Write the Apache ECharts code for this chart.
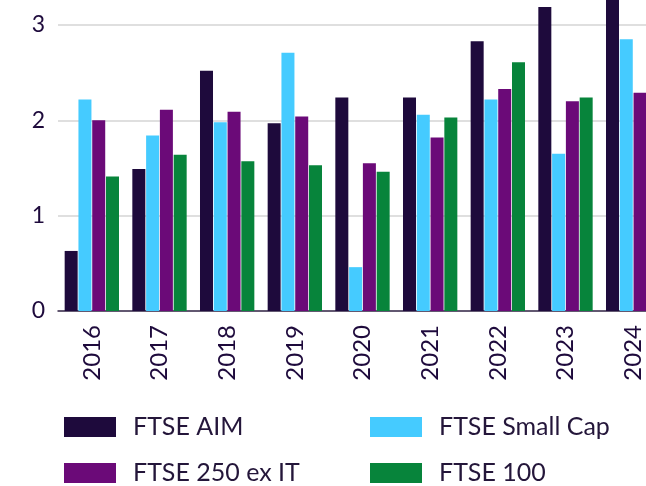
<!DOCTYPE html>
<html>
<head>
<meta charset="utf-8">
<script src="https://cdn.jsdelivr.net/npm/echarts@6/dist/echarts.min.js"></script>
<style>
  html, body { margin: 0; padding: 0; background: #fff; }
  #chart { width: 646px; height: 486px; }
</style>
</head>
<body>
<div id="chart"></div>
<script>
const years = ['2016', '2017', '2018', '2019', '2020', '2021', '2022', '2023', '2024'];
const ftseAim = [0.63, 1.49, 2.52, 1.97, 2.24, 2.24, 2.83, 3.19, 3.40];
const ftseSmallCap = [2.22, 1.84, 1.98, 2.71, 0.46, 2.06, 2.22, 1.65, 2.85];
const ftse250exIT = [2.00, 2.11, 2.09, 2.04, 1.55, 1.82, 2.33, 2.20, 2.29];
const ftse100 = [1.41, 1.64, 1.57, 1.53, 1.46, 2.03, 2.61, 2.24, 2.50];
const yTicks = [0, 1, 2, 3, 4];

const font = 'Lato';
const textColor = '#24163a';

const chart = echarts.init(document.getElementById('chart'));

function legendAt(name, left, top) {
  return {
    data: [name],
    left: left,
    top: top,
    padding: 0,
    itemWidth: 52,
    itemHeight: 20,
    icon: 'rect',
    selectedMode: false,
    textStyle: {
      fontFamily: font,
      fontSize: 25,
      color: textColor,
      lineHeight: 26,
      padding: [0, 0, 0, 12]
    }
  };
}

function bar(name, data, color) {
  return {
    name: name,
    type: 'bar',
    data: data,
    barWidth: 13,
    barGap: '6%',
    itemStyle: { color: color }
  };
}

chart.setOption({
  animation: false,
  grid: {
    left: 58, right: -21, top: -70.3, bottom: 175,
    containLabel: false,
    outerBoundsMode: 'none'
  },
  legend: [
    legendAt('FTSE AIM', 64, 414),
    legendAt('FTSE Small Cap', 370, 414),
    legendAt('FTSE 250 ex IT', 64, 460),
    legendAt('FTSE 100', 370, 460)
  ],
  xAxis: {
    type: 'category',
    data: years,
    axisTick: { show: false },
    axisLine: { lineStyle: { color: '#3a2d4e', width: 1.5 } },
    axisLabel: {
      rotate: 90,
      margin: 14,
      fontFamily: font,
      fontSize: 24,
      color: '#1e0a3c'
    }
  },
  yAxis: {
    type: 'value',
    min: yTicks[0],
    max: yTicks[yTicks.length - 1],
    interval: 1,
    axisLine: { show: false },
    axisTick: { show: false },
    axisLabel: {
      margin: 13,
      fontFamily: font,
      fontSize: 23,
      color: '#1e0a3c'
    },
    splitLine: { lineStyle: { color: '#d4d4d4', width: 1.5 } }
  },
  series: [
    bar('FTSE AIM', ftseAim, '#1e0a3c'),
    bar('FTSE Small Cap', ftseSmallCap, '#45cbff'),
    bar('FTSE 250 ex IT', ftse250exIT, '#6b0a78'),
    bar('FTSE 100', ftse100, '#07843b')
  ]
});
</script>
</body>
</html>
